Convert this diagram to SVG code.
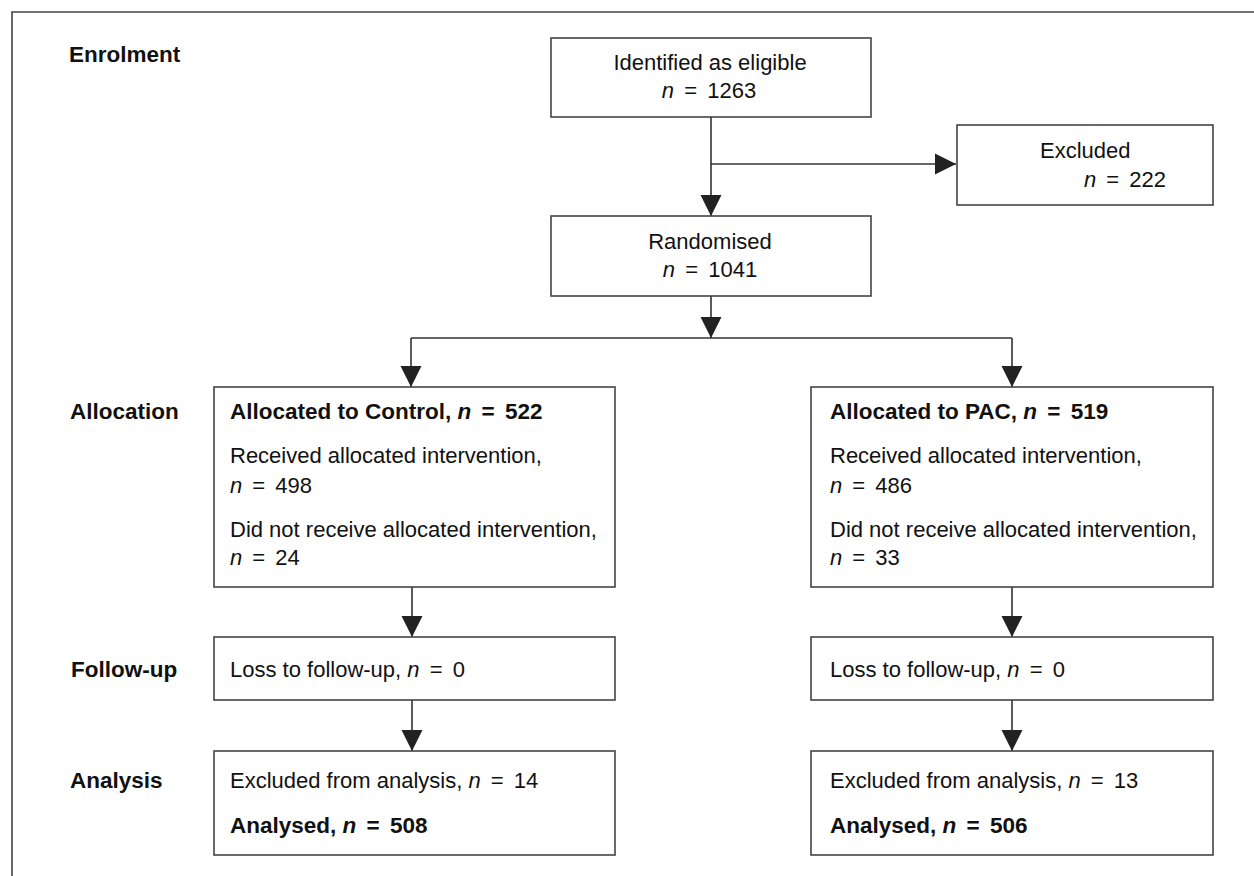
<svg xmlns="http://www.w3.org/2000/svg" width="1254" height="876" viewBox="0 0 1254 876">
<style>
  .box { fill: #ffffff; stroke: #444444; stroke-width: 1.6; }
  .frame { fill: none; stroke: #444444; stroke-width: 1.6; }
  .conn { fill: none; stroke: #333333; stroke-width: 1.6; }
  text { font-family: "Liberation Sans", Arial, sans-serif; font-size: 22px; fill: #111111; }
  .b { font-weight: bold; font-size: 22.5px; }
  .c { text-anchor: middle; }
  .i { font-style: italic; }
  .eq { word-spacing: 4px; }
</style>
<defs>
  <marker id="arr" markerUnits="userSpaceOnUse" markerWidth="22" markerHeight="22" viewBox="0 0 22 22" refX="21" refY="11" orient="auto">
    <path d="M0,0.5 L21,11 L0,21.5 Z" fill="#222222"/>
  </marker>
</defs>
<rect x="0" y="0" width="1254" height="876" fill="#ffffff"/>
<path class="frame" d="M12,876 L12,12 L1254,12"/>

<g id="stage-labels">
  <text class="b" x="69" y="62">Enrolment</text>
  <text class="b" x="70" y="419">Allocation</text>
  <text class="b" x="71" y="677">Follow-up</text>
  <text class="b" x="70" y="788">Analysis</text>
</g>

<g id="connectors">
  <line class="conn" x1="711" y1="117" x2="711" y2="216" marker-end="url(#arr)"/>
  <line class="conn" x1="711" y1="164" x2="956" y2="164" marker-end="url(#arr)"/>
  <line class="conn" x1="711" y1="296" x2="711" y2="338" marker-end="url(#arr)"/>
  <line class="conn" x1="411" y1="338" x2="1012" y2="338"/>
  <line class="conn" x1="411" y1="338" x2="411" y2="387" marker-end="url(#arr)"/>
  <line class="conn" x1="1012" y1="338" x2="1012" y2="387" marker-end="url(#arr)"/>
  <line class="conn" x1="412" y1="587" x2="412" y2="637" marker-end="url(#arr)"/>
  <line class="conn" x1="412" y1="700" x2="412" y2="751" marker-end="url(#arr)"/>
  <line class="conn" x1="1012" y1="587" x2="1012" y2="637" marker-end="url(#arr)"/>
  <line class="conn" x1="1012" y1="700" x2="1012" y2="751" marker-end="url(#arr)"/>
</g>

<g id="eligible">
  <rect class="box" x="551" y="38" width="320" height="79"/>
  <text class="c" x="710" y="70">Identified as eligible</text>
  <text class="c" x="709" y="98"><tspan class="i">n</tspan><tspan class="eq"> = 1263</tspan></text>
</g>

<g id="excluded">
  <rect class="box" x="957" y="125" width="256" height="80"/>
  <text x="1040" y="158">Excluded</text>
  <text x="1084" y="187"><tspan class="i">n</tspan><tspan class="eq"> = 222</tspan></text>
</g>

<g id="randomised">
  <rect class="box" x="551" y="216" width="320" height="80"/>
  <text class="c" x="710" y="249">Randomised</text>
  <text class="c" x="710" y="277"><tspan class="i">n</tspan><tspan class="eq"> = 1041</tspan></text>
</g>

<g id="alloc-control">
  <rect class="box" x="214" y="387" width="401" height="200"/>
  <text class="b" x="230" y="419">Allocated to Control, <tspan class="i">n</tspan><tspan class="eq"> = 522</tspan></text>
  <text x="230" y="463">Received allocated intervention,</text>
  <text x="230" y="493"><tspan class="i">n</tspan><tspan class="eq"> = 498</tspan></text>
  <text x="230" y="537">Did not receive allocated intervention,</text>
  <text x="230" y="565"><tspan class="i">n</tspan><tspan class="eq"> = 24</tspan></text>
</g>

<g id="alloc-pac">
  <rect class="box" x="811" y="387" width="402" height="200"/>
  <text class="b" x="830" y="419">Allocated to PAC, <tspan class="i">n</tspan><tspan class="eq"> = 519</tspan></text>
  <text x="830" y="463">Received allocated intervention,</text>
  <text x="830" y="493"><tspan class="i">n</tspan><tspan class="eq"> = 486</tspan></text>
  <text x="830" y="537">Did not receive allocated intervention,</text>
  <text x="830" y="565"><tspan class="i">n</tspan><tspan class="eq"> = 33</tspan></text>
</g>

<g id="followup-control">
  <rect class="box" x="214" y="637" width="401" height="63"/>
  <text x="230" y="677">Loss to follow-up, <tspan class="i">n</tspan><tspan class="eq"> = 0</tspan></text>
</g>

<g id="followup-pac">
  <rect class="box" x="811" y="637" width="402" height="63"/>
  <text x="830" y="677">Loss to follow-up, <tspan class="i">n</tspan><tspan class="eq"> = 0</tspan></text>
</g>

<g id="analysis-control">
  <rect class="box" x="214" y="751" width="401" height="104"/>
  <text x="230" y="788">Excluded from analysis, <tspan class="i">n</tspan><tspan class="eq"> = 14</tspan></text>
  <text class="b" x="230" y="833">Analysed, <tspan class="i">n</tspan><tspan class="eq"> = 508</tspan></text>
</g>

<g id="analysis-pac">
  <rect class="box" x="811" y="751" width="402" height="104"/>
  <text x="830" y="788">Excluded from analysis, <tspan class="i">n</tspan><tspan class="eq"> = 13</tspan></text>
  <text class="b" x="830" y="833">Analysed, <tspan class="i">n</tspan><tspan class="eq"> = 506</tspan></text>
</g>
</svg>
